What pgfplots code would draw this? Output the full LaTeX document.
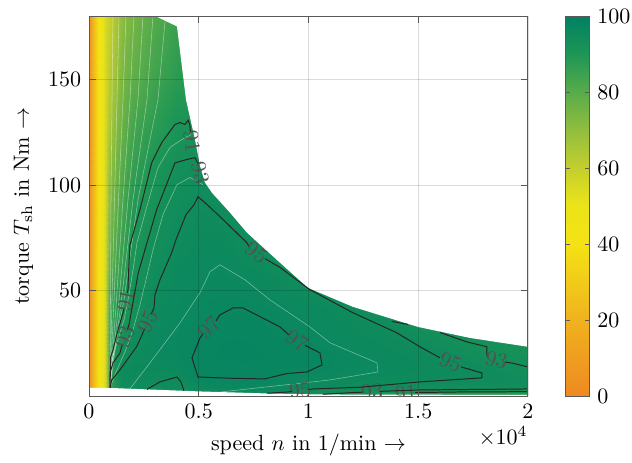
\documentclass[border=0pt]{standalone}
\usepackage{pgfplots}
\pgfplotsset{compat=1.18}
\pgfplotsset{
  colormap={eff}{rgb255(0pt)=(238,137,33) rgb255(20pt)=(240,178,30) rgb255(40pt)=(244,226,20) rgb255(50pt)=(236,228,24) rgb255(60pt)=(196,207,45) rgb255(70pt)=(145,190,62) rgb255(80pt)=(88,172,74) rgb255(90pt)=(30,150,85) rgb255(100pt)=(0,128,100)},
  cl/.style={black!85, line width=0.45pt},
  wl/.style={white, line width=0.25pt, opacity=0.45},
}
\tikzset{clab/.style={sloped, pos=0.5, font=\normalsize, text=black!68, inner sep=0pt}}
\begin{document}
\begin{tikzpicture}
\begin{axis}[
  at={(0,0)}, anchor=south west,
  scale only axis, width=199.5pt, height=172.9pt,
  xmin=0, xmax=20000, ymin=0, ymax=180,
  xtick={0,5000,10000,15000,20000},
  ytick={50,100,150},
  scaled x ticks=base 10:-4,
  xtick scale label code/.code={$\times 10^{#1}$},
  every x tick scale label/.style={at={(rel axis cs:1,0)}, anchor=north east, yshift=-13.5pt, inner sep=0pt},
  xlabel={speed $n$ in 1/min $\rightarrow$},
  ylabel={torque $T_{\mathrm{sh}}$ in Nm $\rightarrow$},
  grid=major, major grid style={black, opacity=0.14, line width=0.35pt},
  axis on top,
  axis line style={black!65, line width=0.4pt},
  tick style={black!65, line width=0.4pt},
  major tick length=3pt,
  colormap name=eff, point meta min=0, point meta max=100,
  colorbar,
  colorbar style={at={(parent axis.north east)}, anchor=north west, xshift=8.64pt,
    width=10.9pt, ytick={0,20,40,60,80,100}, major tick length=2pt,
    axis line style={black!65, line width=0.4pt}, tick style={black!65}},
]
% efficiency grid (speed, torque) [efficiency in %]
\addplot[surf, shader=interp, mesh/cols=19, point meta=explicit] coordinates {
(0,0)[5] (250,0)[25] (500,0)[45] (750,0)[55] (950,0)[80] (1500,0)[82] (2000,0)[83] (3000,0)[84] (4000,0)[84] (5000,0)[85] (6000,0)[85] (7000,0)[86] (8000,0)[86] (10000,0)[86] (12000,0)[86] (14000,0)[85] (16000,0)[84.5] (18000,0)[84] (20000,0)[84]
(0,2)[5] (250,2)[25] (500,2)[45] (750,2)[55] (950,2)[84] (1500,2)[90] (2000,2)[91] (3000,2)[91] (4000,2)[91.5] (5000,2)[92.5] (6000,2)[93.5] (7000,2)[94.5] (8000,2)[95.3] (10000,2)[94] (12000,2)[93] (14000,2)[91.5] (16000,2)[90.8] (18000,2)[90.8] (20000,2)[90.8]
(0,4)[5] (250,4)[25] (500,4)[45] (750,4)[55] (950,4)[86] (1500,4)[94.5] (2000,4)[94.8] (3000,4)[94.3] (4000,4)[94.5] (5000,4)[95.5] (6000,4)[96] (7000,4)[96.1] (8000,4)[96] (10000,4)[95.3] (12000,4)[94.9] (14000,4)[94] (16000,4)[93.6] (18000,4)[93.5] (20000,4)[93.4]
(0,8)[5] (250,8)[25] (500,8)[45] (750,8)[55] (950,8)[87] (1500,8)[95.3] (2000,8)[95.5] (3000,8)[95.1] (4000,8)[94.8] (5000,8)[96.8] (6000,8)[96.95] (7000,8)[96.95] (8000,8)[96.95] (10000,8)[95.8] (12000,8)[95.4] (14000,8)[95.2] (16000,8)[95.1] (18000,8)[95] (20000,8)[94.2]
(0,14)[5] (250,14)[25] (500,14)[45] (750,14)[55] (950,14)[88] (1500,14)[95.1] (2000,14)[95.6] (3000,14)[95.8] (4000,14)[96] (5000,14)[97.2] (6000,14)[97.4] (7000,14)[97.4] (8000,14)[97.3] (10000,14)[97.1] (12000,14)[96.2] (14000,14)[95.8] (16000,14)[95.3] (18000,14)[94.6] (20000,14)[93]
(0,20)[5] (250,20)[25] (500,20)[45] (750,20)[55] (950,20)[88] (1500,20)[93.3] (2000,20)[95.1] (3000,20)[96.2] (4000,20)[96.6] (5000,20)[97.3] (6000,20)[97.6] (7000,20)[97.7] (8000,20)[97.5] (10000,20)[97.1] (12000,20)[96.3] (14000,20)[95.6] (16000,20)[94.9] (18000,20)[93.2] (20000,20)[92.3]
(0,30)[5] (250,30)[25] (500,30)[45] (750,30)[55] (950,30)[87] (1500,30)[91.7] (2000,30)[94.2] (3000,30)[96] (4000,30)[96.6] (5000,30)[96.9] (6000,30)[97.4] (7000,30)[97.4] (8000,30)[97.2] (10000,30)[96.3] (12000,30)[95.6] (14000,30)[95] (16000,30)[93] (18000,30)[92.2] (20000,30)[92]
(0,40)[5] (250,40)[25] (500,40)[45] (750,40)[55] (950,40)[86] (1500,40)[90] (2000,40)[92.4] (3000,40)[95.4] (4000,40)[96.2] (5000,40)[96.5] (6000,40)[96.95] (7000,40)[97.05] (8000,40)[96.8] (10000,40)[96] (12000,40)[95.2] (14000,40)[93] (16000,40)[92] (18000,40)[92] (20000,40)[92]
(0,50)[5] (250,50)[25] (500,50)[45] (750,50)[55] (950,50)[84] (1500,50)[88.8] (2000,50)[92.7] (3000,50)[94.8] (4000,50)[96] (5000,50)[96.3] (6000,50)[96.5] (7000,50)[96.3] (8000,50)[96] (10000,50)[95] (12000,50)[93] (14000,50)[92] (16000,50)[92] (18000,50)[92] (20000,50)[92]
(0,60)[5] (250,60)[25] (500,60)[45] (750,60)[55] (950,60)[80] (1500,60)[87] (2000,60)[91.5] (3000,60)[94.2] (4000,60)[95.6] (5000,60)[96] (6000,60)[96.1] (7000,60)[95.8] (8000,60)[95.3] (10000,60)[93] (12000,60)[92] (14000,60)[92] (16000,60)[92] (18000,60)[92] (20000,60)[92]
(0,75)[5] (250,75)[25] (500,75)[45] (750,75)[55] (950,75)[77] (1500,75)[85] (2000,75)[90.5] (3000,75)[93.4] (4000,75)[95] (5000,75)[95.6] (6000,75)[95.6] (7000,75)[94.5] (8000,75)[93] (10000,75)[92] (12000,75)[92] (14000,75)[92] (16000,75)[92] (18000,75)[92] (20000,75)[92]
(0,90)[5] (250,90)[25] (500,90)[45] (750,90)[55] (950,90)[74] (1500,90)[83] (2000,90)[89] (3000,90)[92.5] (4000,90)[94.2] (5000,90)[95.1] (6000,90)[94.5] (7000,90)[93] (8000,90)[92] (10000,90)[92] (12000,90)[92] (14000,90)[92] (16000,90)[92] (18000,90)[92] (20000,90)[92]
(0,110)[5] (250,110)[25] (500,110)[45] (750,110)[55] (950,110)[70] (1500,110)[80] (2000,110)[86] (3000,110)[90.9] (4000,110)[93] (5000,110)[93.5] (6000,110)[92] (7000,110)[92] (8000,110)[92] (10000,110)[92] (12000,110)[92] (14000,110)[92] (16000,110)[92] (18000,110)[92] (20000,110)[92]
(0,130)[5] (250,130)[25] (500,130)[45] (750,130)[55] (950,130)[66] (1500,130)[77] (2000,130)[83] (3000,130)[87.5] (4000,130)[91] (5000,130)[91.5] (6000,130)[91] (7000,130)[91] (8000,130)[91] (10000,130)[91] (12000,130)[91] (14000,130)[91] (16000,130)[91] (18000,130)[91] (20000,130)[91]
(0,150)[5] (250,150)[25] (500,150)[45] (750,150)[55] (950,150)[63] (1500,150)[74] (2000,150)[79] (3000,150)[84.5] (4000,150)[88] (5000,150)[90] (6000,150)[90] (7000,150)[90] (8000,150)[90] (10000,150)[90] (12000,150)[90] (14000,150)[90] (16000,150)[90] (18000,150)[90] (20000,150)[90]
(0,180)[5] (250,180)[25] (500,180)[45] (750,180)[55] (950,180)[60] (1500,180)[71] (2000,180)[75] (3000,180)[81] (4000,180)[85] (5000,180)[89] (6000,180)[89] (7000,180)[89] (8000,180)[89] (10000,180)[89] (12000,180)[89] (14000,180)[89] (16000,180)[89] (18000,180)[89] (20000,180)[89]
};
% white area above the torque envelope and below the measured range
\addplot[fill=white, draw=none] coordinates {(2960,180.3) (4009,175.1) (4419,140.5) (4602,132.0) (4829,121.6) (5057,109.2) (5285,101.2) (5604,96.4) (5968,92.2) (6423,87.0) (7198,77.5) (8702,63.3) (9978,51.4) (12028,42.4) (14990,32.9) (17358,27.7) (20000,23.5) (20600,23.5) (20600,190) (2960,190)};
\addplot[fill=white, draw=none] coordinates {(-600,4.03) (957,4.03) (5060,2.37) (8110,1.42) (10520,0.95) (20000,0.71) (20600,0.71) (20600,-5) (-600,-5)};
% thin white contour lines
\addplot[wl] coordinates {(957,4.03) (980,45.7) (1002,93.1) (1048,140.5) (1093,180)};
\addplot[wl] coordinates {(957,4.03) (1048,45.7) (1162,93.1) (1276,140.5) (1367,180)};
\addplot[wl] coordinates {(957,4.03) (1139,45.7) (1344,93.1) (1549,140.5) (1686,180)};
\addplot[wl] coordinates {(957,4.03) (1253,45.7) (1549,93.1) (1868,140.5) (2050,180)};
\addplot[wl] coordinates {(957,4.03) (1367,45.7) (1777,93.1) (2232,140.5) (2460,180)};
\addplot[wl] coordinates {(957,4.03) (1481,45.7) (2005,93.1) (2642,140.5) (2916,180)};
\addplot[wl] coordinates {(980,12.6) (1595,45.7) (2232,93.1) (3144,140.5) (3463,177.5)};
\addplot[wl] coordinates {(957,4.03) (1048,17.3) (1276,25.4) (1595,36.3) (1822,48.1) (2005,59.9) (2187,72.7) (2597,88.4) (3144,108.3) (3690,117.8) (4237,121.6) (4647,123.9)};
\addplot[wl] coordinates {(957,4.03) (1230,11.6) (1640,21.1) (2005,31.5) (2324,43.4) (2597,55.2) (2916,69.4) (3371,86.0) (4009,100.2) (4602,103.6) (5194,100.2)};
\addplot[wl] coordinates {(1868,3.66) (2779,15.9) (4146,34.8) (5057,49.1) (5513,59.0) (5968,62.3) (7107,55.2) (8246,45.7) (10068,32.9) (10980,25.4) (13121,15.9) (13167,11.6) (10980,7.8) (5968,2.1)};
% contour 91
\addplot[cl] coordinates {(957,4.03) (989,18.7) (1093,22.0) (1321,31.5) (1563,40.0) (1595,41.6)};
\addplot[draw=none] coordinates {(1595,41.6) (1750,49.0)} node[clab]{91};
\addplot[cl] coordinates {(1750,49.0) (1777,50.5) (1800,58.5) (1868,71.8) (2324,88.4) (2857,110.6) (3312,120.1) (3918,128.7) (4146,129.6) (4374,128.7) (4524,130.7) (4602,127.9) (4624,124.9)};
\addplot[draw=none] coordinates {(4624,124.9) (4738,116.8)} node[clab]{91};
\addplot[draw=none] coordinates {(14032,1.0) (14852,1.85)} node[clab]{91};
\addplot[cl] coordinates {(14852,1.85) (16902,2.13) (20000,2.27)};
% contour 93
\addplot[cl] coordinates {(957,4.03) (957,11.1) (1093,15.9) (1412,20.6) (1458,22.5) (1526,24.6)};
\addplot[draw=none] coordinates {(1526,24.6) (1754,31.8)} node[clab]{93};
\addplot[cl] coordinates {(1754,31.8) (1822,33.9) (1945,41.0) (2246,58.5) (2642,72.7) (3084,88.4) (3918,110.5) (4451,112.1) (4829,113.0) (4966,110.2)};
\addplot[draw=none] coordinates {(4966,110.2) (5148,101.7)} node[clab]{93};
\addplot[cl] coordinates {(13805,35.5) (14533,34.1)};
\addplot[cl] coordinates {(15991,30.3) (16310,29.1) (17222,25.8) (18133,23.5) (18133,19.7) (18178,18.3)};
\addplot[draw=none] coordinates {(18178,18.3) (18953,16.3)} node[clab]{93};
\addplot[cl] coordinates {(18953,16.3) (19318,15.7) (20000,13.98)};
\addplot[cl] coordinates {(10661,1.04) (12119,1.9) (12529,2.04)};
\addplot[draw=none] coordinates {(12529,2.04) (13258,2.42)} node[clab]{93};
\addplot[cl] coordinates {(13258,2.42) (15080,3.08) (20000,3.55)};
% contour 95
\addplot[cl] coordinates {(957,4.03) (1034,7.8) (1412,12.6) (2173,23.6) (2415,29.1) (2537,32.1)};
\addplot[draw=none] coordinates {(2537,32.1) (2838,39.0)} node[clab]{95};
\addplot[cl] coordinates {(2838,39.0) (2961,41.9) (3007,48.1) (3235,55.2) (3768,68.0) (3964,74.2) (4419,86.0) (4784,90.7) (4966,94.5) (5285,91.7) (5968,85.1) (7198,72.7) (7290,70.9)};
\addplot[draw=none] coordinates {(7290,70.9) (8019,65.2)} node[clab]{95};
\addplot[cl] coordinates {(8019,65.2) (8702,61.1) (10068,50.5) (12028,39.6) (14032,30.1) (15080,23.5) (15991,18.3)};
\addplot[draw=none] coordinates {(15991,18.3) (16948,14.0)} node[clab]{95};
\addplot[cl] coordinates {(16948,14.0) (17905,11.1) (17905,8.8) (15080,6.9) (12347,4.36) (10205,3.55) (9978,3.18)};
\addplot[draw=none] coordinates {(9249,2.37) (9978,3.18)} node[clab]{95};
\addplot[cl] coordinates {(9249,2.37) (9066,2.13) (8110,1.52)};
\addplot[cl] coordinates {(2642,3.35) (3235,6.9) (4009,9.2) (4192,6.9) (4328,2.67)};
% contour 97
\addplot[cl] coordinates {(5786,35.8) (5968,38.6) (6561,41.9) (7016,41.9) (8702,32.9) (9112,29.1)};
\addplot[draw=none] coordinates {(9112,29.1) (9841,24.2)} node[clab]{97};
\addplot[cl] coordinates {(9841,24.2) (10524,20.6) (10615,14.9) (9930,11.6) (9000,10.8) (8000,8.3) (6500,8.6) (4966,9.2) (4693,18.2) (5057,27.7) (5194,29.6)};
\addplot[draw=none] coordinates {(5194,29.6) (5786,35.8)} node[clab]{97};
\end{axis}
\pgfresetboundingbox
\path (-40.45pt,-30.22pt) rectangle (246.8pt,180.2pt);
\end{tikzpicture}
\end{document}
